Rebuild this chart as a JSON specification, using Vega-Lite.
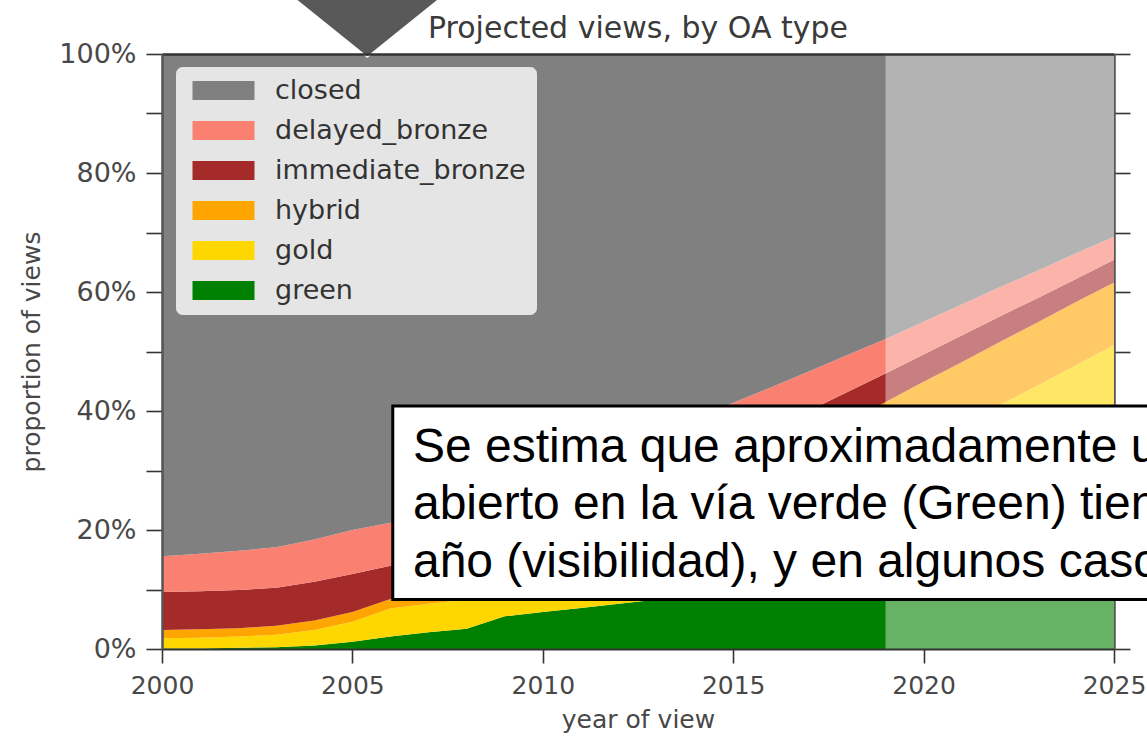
{
"$schema": "https://vega.github.io/schema/vega-lite/v6.json",
"width": 952, "height": 595,
"autosize": {"type": "none"},
"padding": {"left": 162, "top": 54, "right": 33, "bottom": 88},
"background": "white",
"config": {"view": {"stroke": null}, "font": "DejaVu Sans"},
"resolve": {"axis": {"x": "independent", "y": "independent"}},
"layer": [
{
"data": {"values": [
{"year":2000,"type":"green","share":0.001},{"year":2000,"type":"gold","share":0.017},{"year":2000,"type":"hybrid","share":0.014},{"year":2000,"type":"immediate_bronze","share":0.064},{"year":2000,"type":"delayed_bronze","share":0.060},{"year":2000,"type":"closed","share":0.844},
{"year":2001,"type":"green","share":0.001},{"year":2001,"type":"gold","share":0.018},{"year":2001,"type":"hybrid","share":0.014},{"year":2001,"type":"immediate_bronze","share":0.064},{"year":2001,"type":"delayed_bronze","share":0.063},{"year":2001,"type":"closed","share":0.840},
{"year":2002,"type":"green","share":0.002},{"year":2002,"type":"gold","share":0.019},{"year":2002,"type":"hybrid","share":0.014},{"year":2002,"type":"immediate_bronze","share":0.064},{"year":2002,"type":"delayed_bronze","share":0.066},{"year":2002,"type":"closed","share":0.835},
{"year":2003,"type":"green","share":0.003},{"year":2003,"type":"gold","share":0.021},{"year":2003,"type":"hybrid","share":0.015},{"year":2003,"type":"immediate_bronze","share":0.064},{"year":2003,"type":"delayed_bronze","share":0.068},{"year":2003,"type":"closed","share":0.829},
{"year":2004,"type":"green","share":0.006},{"year":2004,"type":"gold","share":0.026},{"year":2004,"type":"hybrid","share":0.016},{"year":2004,"type":"immediate_bronze","share":0.065},{"year":2004,"type":"delayed_bronze","share":0.071},{"year":2004,"type":"closed","share":0.816},
{"year":2005,"type":"green","share":0.012},{"year":2005,"type":"gold","share":0.034},{"year":2005,"type":"hybrid","share":0.016},{"year":2005,"type":"immediate_bronze","share":0.064},{"year":2005,"type":"delayed_bronze","share":0.074},{"year":2005,"type":"closed","share":0.800},
{"year":2006,"type":"green","share":0.021},{"year":2006,"type":"gold","share":0.047},{"year":2006,"type":"hybrid","share":0.016},{"year":2006,"type":"immediate_bronze","share":0.056},{"year":2006,"type":"delayed_bronze","share":0.072},{"year":2006,"type":"closed","share":0.788},
{"year":2007,"type":"green","share":0.028},{"year":2007,"type":"gold","share":0.048},{"year":2007,"type":"hybrid","share":0.022},{"year":2007,"type":"immediate_bronze","share":0.055},{"year":2007,"type":"delayed_bronze","share":0.073},{"year":2007,"type":"closed","share":0.774},
{"year":2008,"type":"green","share":0.034},{"year":2008,"type":"gold","share":0.049},{"year":2008,"type":"hybrid","share":0.032},{"year":2008,"type":"immediate_bronze","share":0.053},{"year":2008,"type":"delayed_bronze","share":0.076},{"year":2008,"type":"closed","share":0.756},
{"year":2009,"type":"green","share":0.055},{"year":2009,"type":"gold","share":0.043},{"year":2009,"type":"hybrid","share":0.035},{"year":2009,"type":"immediate_bronze","share":0.053},{"year":2009,"type":"delayed_bronze","share":0.079},{"year":2009,"type":"closed","share":0.735},
{"year":2010,"type":"green","share":0.062},{"year":2010,"type":"gold","share":0.051},{"year":2010,"type":"hybrid","share":0.040},{"year":2010,"type":"immediate_bronze","share":0.054},{"year":2010,"type":"delayed_bronze","share":0.081},{"year":2010,"type":"closed","share":0.712},
{"year":2011,"type":"green","share":0.069},{"year":2011,"type":"gold","share":0.060},{"year":2011,"type":"hybrid","share":0.046},{"year":2011,"type":"immediate_bronze","share":0.055},{"year":2011,"type":"delayed_bronze","share":0.082},{"year":2011,"type":"closed","share":0.688},
{"year":2012,"type":"green","share":0.076},{"year":2012,"type":"gold","share":0.070},{"year":2012,"type":"hybrid","share":0.054},{"year":2012,"type":"immediate_bronze","share":0.055},{"year":2012,"type":"delayed_bronze","share":0.082},{"year":2012,"type":"closed","share":0.663},
{"year":2013,"type":"green","share":0.083},{"year":2013,"type":"gold","share":0.081},{"year":2013,"type":"hybrid","share":0.062},{"year":2013,"type":"immediate_bronze","share":0.056},{"year":2013,"type":"delayed_bronze","share":0.080},{"year":2013,"type":"closed","share":0.638},
{"year":2014,"type":"green","share":0.090},{"year":2014,"type":"gold","share":0.093},{"year":2014,"type":"hybrid","share":0.070},{"year":2014,"type":"immediate_bronze","share":0.057},{"year":2014,"type":"delayed_bronze","share":0.078},{"year":2014,"type":"closed","share":0.612},
{"year":2015,"type":"green","share":0.097},{"year":2015,"type":"gold","share":0.106},{"year":2015,"type":"hybrid","share":0.079},{"year":2015,"type":"immediate_bronze","share":0.058},{"year":2015,"type":"delayed_bronze","share":0.074},{"year":2015,"type":"closed","share":0.586},
{"year":2016,"type":"green","share":0.104},{"year":2016,"type":"gold","share":0.120},{"year":2016,"type":"hybrid","share":0.089},{"year":2016,"type":"immediate_bronze","share":0.057},{"year":2016,"type":"delayed_bronze","share":0.070},{"year":2016,"type":"closed","share":0.560},
{"year":2017,"type":"green","share":0.111},{"year":2017,"type":"gold","share":0.134},{"year":2017,"type":"hybrid","share":0.101},{"year":2017,"type":"immediate_bronze","share":0.055},{"year":2017,"type":"delayed_bronze","share":0.066},{"year":2017,"type":"closed","share":0.533},
{"year":2018,"type":"green","share":0.118},{"year":2018,"type":"gold","share":0.157},{"year":2018,"type":"hybrid","share":0.105},{"year":2018,"type":"immediate_bronze","share":0.052},{"year":2018,"type":"delayed_bronze","share":0.062},{"year":2018,"type":"closed","share":0.506},
{"year":2019,"type":"green","share":0.125},{"year":2019,"type":"gold","share":0.183},{"year":2019,"type":"hybrid","share":0.107},{"year":2019,"type":"immediate_bronze","share":0.048},{"year":2019,"type":"delayed_bronze","share":0.058},{"year":2019,"type":"closed","share":0.479},
{"year":2020,"type":"green","share":0.132},{"year":2020,"type":"gold","share":0.210},{"year":2020,"type":"hybrid","share":0.107},{"year":2020,"type":"immediate_bronze","share":0.046},{"year":2020,"type":"delayed_bronze","share":0.055},{"year":2020,"type":"closed","share":0.450},
{"year":2021,"type":"green","share":0.139},{"year":2021,"type":"gold","share":0.237},{"year":2021,"type":"hybrid","share":0.106},{"year":2021,"type":"immediate_bronze","share":0.045},{"year":2021,"type":"delayed_bronze","share":0.052},{"year":2021,"type":"closed","share":0.421},
{"year":2022,"type":"green","share":0.146},{"year":2022,"type":"gold","share":0.264},{"year":2022,"type":"hybrid","share":0.106},{"year":2022,"type":"immediate_bronze","share":0.043},{"year":2022,"type":"delayed_bronze","share":0.049},{"year":2022,"type":"closed","share":0.392},
{"year":2023,"type":"green","share":0.153},{"year":2023,"type":"gold","share":0.290},{"year":2023,"type":"hybrid","share":0.106},{"year":2023,"type":"immediate_bronze","share":0.041},{"year":2023,"type":"delayed_bronze","share":0.046},{"year":2023,"type":"closed","share":0.364},
{"year":2024,"type":"green","share":0.160},{"year":2024,"type":"gold","share":0.317},{"year":2024,"type":"hybrid","share":0.106},{"year":2024,"type":"immediate_bronze","share":0.039},{"year":2024,"type":"delayed_bronze","share":0.043},{"year":2024,"type":"closed","share":0.335},
{"year":2025,"type":"green","share":0.167},{"year":2025,"type":"gold","share":0.344},{"year":2025,"type":"hybrid","share":0.105},{"year":2025,"type":"immediate_bronze","share":0.038},{"year":2025,"type":"delayed_bronze","share":0.039},{"year":2025,"type":"closed","share":0.307}
]},
"transform": [{"calculate": "indexof(['green', 'gold', 'hybrid', 'immediate_bronze', 'delayed_bronze', 'closed'], datum.type)", "as": "stack_rank"}],
"mark": {"type": "area", "interpolate": "linear"},
"encoding": {
"x": {"field": "year", "type": "quantitative",
 "scale": {"domain": [2000, 2025], "nice": false, "zero": false},
 "axis": {"values": [2000, 2005, 2010, 2015, 2020, 2025], "format": "d", "title": "year of view", "grid": false,
  "labelFont": "DejaVu Sans", "labelFontSize": 25, "labelColor": "#484848", "labelPadding": 10, "labelFlush": false, "labelOverlap": false,
  "tickColor": "#333333", "tickSize": 14, "tickWidth": 1.6, "domainColor": "#333333", "domainWidth": 2,
  "titleFont": "DejaVu Sans", "titleFontSize": 25, "titleFontWeight": "normal", "titleColor": "#484848", "titlePadding": 9, "zindex": 1}},
"y": {"field": "share", "type": "quantitative", "stack": "zero",
 "scale": {"domain": [0, 1], "nice": false},
 "axis": {"values": [0, 0.1, 0.2, 0.3, 0.4, 0.5, 0.6, 0.7, 0.8, 0.9, 1], "labelExpr": "round(datum.value*10) % 2 == 0 ? format(datum.value, '.0%') : ''", "title": "proportion of views", "grid": false,
  "labelFont": "DejaVu Sans", "labelFontSize": 27, "labelColor": "#484848", "labelPadding": 10,
  "tickColor": "#333333", "tickSize": 16, "tickWidth": 1.6, "domainColor": "#555555", "domainWidth": 2.5,
  "titleFont": "DejaVu Sans", "titleFontSize": 25, "titleFontWeight": "normal", "titleColor": "#484848", "titlePadding": 14, "zindex": 1}},
"order": {"field": "stack_rank", "type": "quantitative", "sort": "ascending"},
"color": {"field": "type", "type": "nominal",
 "scale": {"domain": ["closed", "delayed_bronze", "immediate_bronze", "hybrid", "gold", "green"], "range": ["#808080", "#fa8072", "#a52a2a", "#ffa500", "#ffd700", "#008000"]},
 "legend": {"title": null, "orient": "none", "legendX": 14, "legendY": 13,
  "symbolType": "M-3.263,-1H3.263V1H-3.263Z", "symbolSize": 361, "symbolStrokeWidth": 0, "symbolOpacity": 1, "symbolOffset": 24,
  "labelFont": "DejaVu Sans", "labelFontSize": 27, "labelColor": "#333333", "labelOffset": 38, "labelLimit": 500, "rowPadding": 12,
  "padding": 10, "fillColor": "#e5e5e5", "strokeColor": "#e5e5e5", "cornerRadius": 6}}
}
},
{
"data": {"values": [{}]},
"mark": {"type": "rect", "fill": "white", "opacity": 0.4},
"encoding": {
"x": {"datum": 2019, "type": "quantitative", "scale": {"domain": [2000, 2025], "nice": false, "zero": false},
 "axis": {"orient": "top", "labels": false, "ticks": false, "title": null, "grid": false, "domainColor": "#333333", "domainWidth": 2.5, "zindex": 1}},
"x2": {"datum": 2025},
"y": {"datum": 0, "type": "quantitative", "scale": {"domain": [0, 1], "nice": false},
 "axis": {"orient": "right", "values": [0, 0.1, 0.2, 0.3, 0.4, 0.5, 0.6, 0.7, 0.8, 0.9, 1], "labels": false, "title": null, "grid": false, "tickColor": "#333333", "tickSize": 16, "tickWidth": 1.6, "domainColor": "#555555", "domainWidth": 2.5, "zindex": 0}},
"y2": {"datum": 1}
}
},
{
"data": {"values": [{}]},
"mark": {"type": "rect", "fill": "white", "stroke": "black", "strokeWidth": 3},
"encoding": {
"x": {"datum": 2006.06, "type": "quantitative", "scale": {"domain": [2000, 2025], "nice": false, "zero": false}, "axis": null},
"x2": {"datum": 2027},
"y": {"datum": 0.4084, "type": "quantitative", "scale": {"domain": [0, 1], "nice": false}, "axis": null},
"y2": {"datum": 0.0832}
}
},
{
"data": {"values": [{}]},
"mark": {"type": "text", "text": ["Se estima que aproximadamente un", "abierto en la vía verde (Green) tienen", "año (visibilidad), y en algunos casos"], "font": "Liberation Sans", "fontSize": 48, "lineHeight": 57.5, "align": "left", "baseline": "alphabetic", "color": "black"},
"encoding": {
"x": {"datum": 2006.59, "type": "quantitative", "scale": {"domain": [2000, 2025], "nice": false, "zero": false}, "axis": null},
"y": {"datum": 0.3143, "type": "quantitative", "scale": {"domain": [0, 1], "nice": false}, "axis": null}
}
},
{
"data": {"values": [{}]},
"mark": {"type": "text", "text": "Projected views, by OA type", "font": "DejaVu Sans", "fontSize": 30, "align": "center", "baseline": "alphabetic", "color": "#3a3a3a"},
"encoding": {
"x": {"datum": 2012.5, "type": "quantitative", "scale": {"domain": [2000, 2025], "nice": false, "zero": false}, "axis": null},
"y": {"datum": 1.0269, "type": "quantitative", "scale": {"domain": [0, 1], "nice": false}, "axis": null}
}
},
{
"data": {"values": [{}]},
"mark": {"type": "point", "shape": "M0,1L-2.49,-1L2.49,-1Z", "size": 3600, "filled": true, "fill": "#595959", "stroke": "white", "strokeWidth": 1.5, "opacity": 1},
"encoding": {
"x": {"datum": 2005.39, "type": "quantitative", "scale": {"domain": [2000, 2025], "nice": false, "zero": false}, "axis": null},
"y": {"datum": 1.0454, "type": "quantitative", "scale": {"domain": [0, 1], "nice": false}, "axis": null}
}
}
]
}
